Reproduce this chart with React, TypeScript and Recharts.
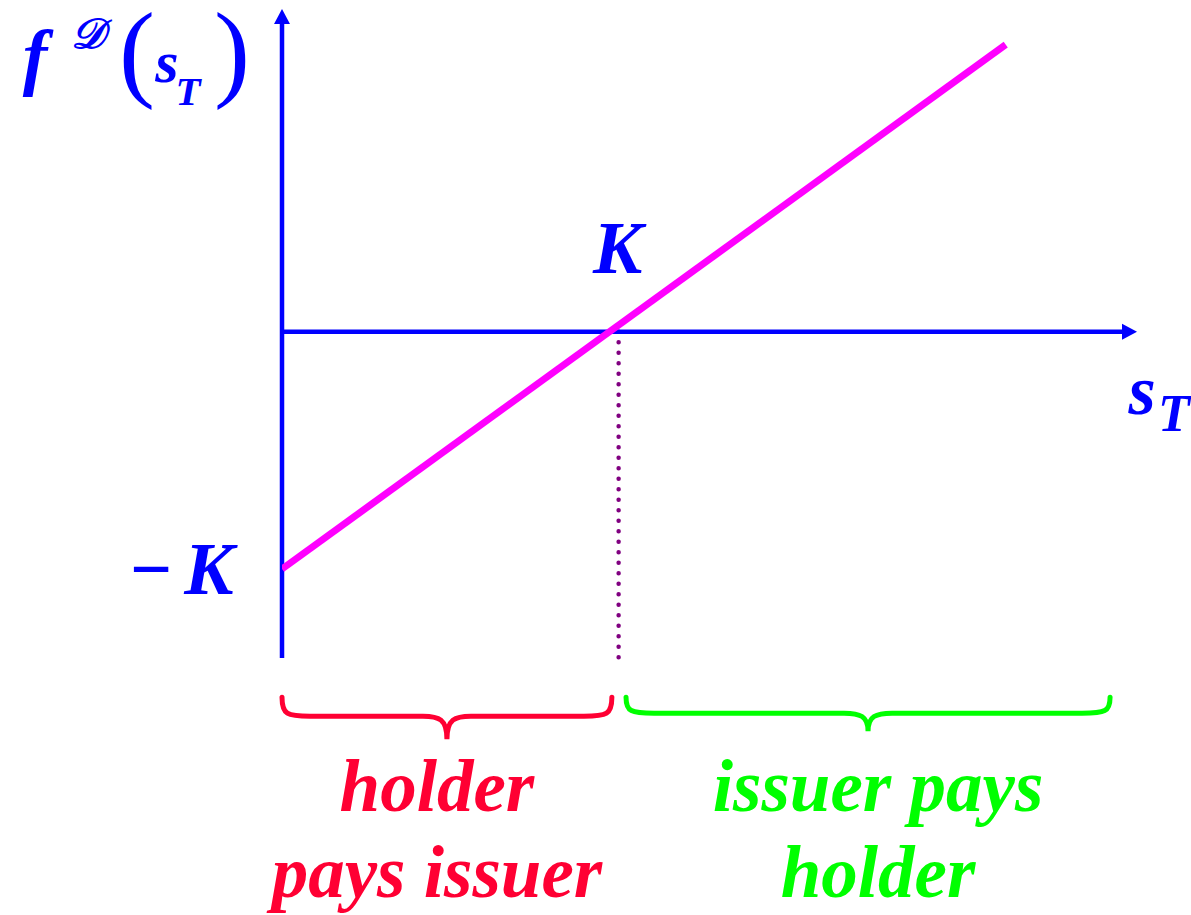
import { LineChart, Line, XAxis, YAxis, ReferenceLine, ReferenceDot } from "recharts";

// strike (K) is the unit on both axes
const K = 1;
const sValues = [0, 2.15];
const payoffValues = [-1, 1.21];
const xDomain = [0, 2.54];
const yDomain = [-1.375, 1.36];
const braceLevel = -1.54;
const holderPaysRange = [0, 0.98];
const issuerPaysRange = [1.022, 2.46];
const holderPaysLines = ["holder", "pays issuer"];
const issuerPaysLines = ["issuer pays", "holder"];

const data = sValues.map((s, i) => ({ s, f: payoffValues[i] }));

const BLUE = "#0000FF";
const MAGENTA = "#FF00FF";
const RED = "#FF0033";
const GREEN = "#00FF00";
const PURPLE = "#800080";
const SERIF = "'Liberation Serif', 'Times New Roman', serif";

const txt = { fontFamily: SERIF, fontWeight: 700, fontStyle: "italic" as const };

const arrowAxis = (p: any) => {
  const { x1, y1, x2, y2 } = p;
  const len = Math.hypot(x2 - x1, y2 - y1);
  const ux = (x2 - x1) / len;
  const uy = (y2 - y1) / len;
  const bx = x2 - ux * 15;
  const by = y2 - uy * 15;
  const px = -uy * 8;
  const py = ux * 8;
  return (
    <g>
      <line x1={x1} y1={y1} x2={bx + ux} y2={by + uy} stroke={BLUE} strokeWidth={4.5} />
      <polygon points={`${x2},${y2} ${bx + px},${by + py} ${bx - px},${by - py}`} fill={BLUE} />
    </g>
  );
};

const dotted = (p: any) => (
  <line
    x1={p.x1}
    y1={p.y1}
    x2={p.x2}
    y2={p.y2}
    stroke={PURPLE}
    strokeWidth={4.5}
    strokeDasharray="0 10.5"
    strokeLinecap="round"
  />
);

const brace = (color: string, h: number, t: number) => (p: any) => {
  const { x1, x2, y1: y } = p;
  const xm = (x1 + x2) / 2;
  const r = 28;
  const r2 = 24;
  const d = `M ${x1} ${y} C ${x1} ${y + h * 0.9}, ${x1 + 5} ${y + h}, ${x1 + r} ${y + h}
    L ${xm - r2} ${y + h} C ${xm - 8} ${y + h}, ${xm} ${y + h + 3}, ${xm} ${y + h + t}
    C ${xm} ${y + h + 3}, ${xm + 8} ${y + h}, ${xm + r2} ${y + h}
    L ${x2 - r} ${y + h} C ${x2 - 5} ${y + h}, ${x2} ${y + h * 0.9}, ${x2} ${y}`;
  return <path d={d} fill="none" stroke={color} strokeWidth={5} strokeLinecap="round" />;
};

const titleLabel = (p: any) => {
  const { cx, cy } = p;
  return (
    <g fill={BLUE}>
      <text x={cx - 247} y={cy + 72} textAnchor="middle" fontSize={74} {...txt}>f</text>
      <text x={cx - 194} y={cy + 39} textAnchor="middle" fontSize={42} {...txt}>𝒟</text>
      <text x={cx - 145} y={cy + 78} textAnchor="middle" fontSize={108} fontFamily={SERIF}>(</text>
      <text x={cx - 115} y={cy + 73} textAnchor="middle" fontSize={60} {...txt}>s</text>
      <text x={cx - 94} y={cy + 96} textAnchor="middle" fontSize={41} {...txt}>T</text>
      <text x={cx - 50} y={cy + 78} textAnchor="middle" fontSize={108} fontFamily={SERIF}>)</text>
    </g>
  );
};

const xLabel = (p: any) => (
  <g fill={BLUE}>
    <text x={p.cx + 5} y={p.cy + 82} textAnchor="middle" fontSize={70} {...txt}>s</text>
    <text x={p.cx + 37} y={p.cy + 99} textAnchor="middle" fontSize={52} {...txt}>T</text>
  </g>
);

const kLabel = (p: any) => (
  <text x={p.cx - 1} y={p.cy - 59} textAnchor="middle" fontSize={74} fill={BLUE} {...txt}>K</text>
);

const minusKLabel = (p: any) => (
  <g fill={BLUE}>
    <text x={p.cx - 131} y={p.cy + 25} textAnchor="middle" fontSize={74} fontFamily={SERIF} fontWeight={700}>−</text>
    <text x={p.cx - 73} y={p.cy + 25} textAnchor="middle" fontSize={74} {...txt}>K</text>
  </g>
);

const braceText = (lines: string[], color: string, dx: number) => (p: any) => (
  <g fill={color}>
    {lines.map((line, i) => (
      <text key={i} x={p.cx + dx} y={p.cy + 114 + i * 86} textAnchor="middle" fontSize={73} {...txt}>
        {line}
      </text>
    ))}
  </g>
);

export default function App() {
  const mid = (r: number[]) => (r[0] + r[1]) / 2;
  return (
    <div style={{ position: "absolute", left: 0, top: 0, width: 1191, height: 915, background: "#fff" }}>
      <LineChart width={1191} height={915} data={data} margin={{ top: 9, right: 54, left: 282, bottom: 257 }}>
        <XAxis dataKey="s" type="number" domain={xDomain} hide allowDataOverflow />
        <YAxis type="number" domain={yDomain} hide allowDataOverflow />
        <ReferenceLine segment={[{ x: K, y: 0 }, { x: K, y: yDomain[0] }]} ifOverflow="visible" shape={dotted} />
        <ReferenceLine segment={[{ x: 0, y: 0 }, { x: xDomain[1], y: 0 }]} ifOverflow="visible" shape={arrowAxis} />
        <ReferenceLine segment={[{ x: 0, y: yDomain[0] }, { x: 0, y: yDomain[1] }]} ifOverflow="visible" shape={arrowAxis} />
        <ReferenceLine
          segment={[{ x: holderPaysRange[0], y: braceLevel }, { x: holderPaysRange[1], y: braceLevel }]}
          ifOverflow="visible"
          shape={brace(RED, 19, 23)}
        />
        <ReferenceLine
          segment={[{ x: issuerPaysRange[0], y: braceLevel }, { x: issuerPaysRange[1], y: braceLevel }]}
          ifOverflow="visible"
          shape={brace(GREEN, 16, 18)}
        />
        <Line dataKey="f" type="linear" stroke={MAGENTA} strokeWidth={7} dot={false} isAnimationActive={false} />
        <ReferenceDot x={0} y={yDomain[1]} ifOverflow="visible" shape={titleLabel} />
        <ReferenceDot x={xDomain[1]} y={0} ifOverflow="visible" shape={xLabel} />
        <ReferenceDot x={K} y={0} ifOverflow="visible" shape={kLabel} />
        <ReferenceDot x={0} y={-K} ifOverflow="visible" shape={minusKLabel} />
        <ReferenceDot x={mid(holderPaysRange)} y={braceLevel} ifOverflow="visible" shape={braceText(holderPaysLines, RED, -10)} />
        <ReferenceDot x={mid(issuerPaysRange)} y={braceLevel} ifOverflow="visible" shape={braceText(issuerPaysLines, GREEN, 10)} />
      </LineChart>
    </div>
  );
}
